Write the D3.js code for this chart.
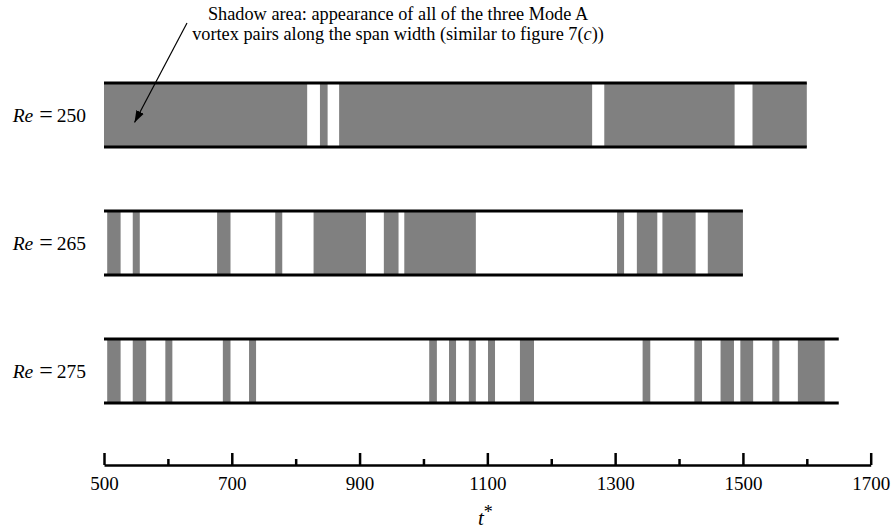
<!DOCTYPE html>
<html><head><meta charset="utf-8">
<script src="https://cdn.jsdelivr.net/npm/d3@7"></script>
<style>body{margin:0;background:#fff}svg{display:block}text{font-family:"Liberation Serif","Times New Roman",serif;fill:#000}</style>
</head><body>
<script>
const reynolds = ["250", "265", "275"];
const spanEnd = [1600, 1500, 1650];
const shaded250 = [[500,818],[838,850],[868,1264],[1283,1487],[1515,1600]];
const shaded265 = [[505,526],[545,556],[677,698],[768,779],[828,910],[938,961],[970,1082],[1303,1314],[1334,1366],[1374,1426],[1445,1500]];
const shaded275 = [[505,526],[545,566],[596,607],[686,698],[727,738],[1009,1021],[1040,1051],[1071,1082],[1101,1112],[1151,1173],[1343,1355],[1424,1436],[1465,1486],[1496,1516],[1546,1557],[1586,1628]];
const shadedAll = [shaded250, shaded265, shaded275];
const majorTicks = [500, 700, 900, 1100, 1300, 1500, 1700];
const minorTicks = [600, 800, 1000, 1200, 1400, 1600];

const W = 896, H = 530;
const svg = d3.select("body").append("svg").attr("width", W).attr("height", H);
const x = d3.scaleLinear().domain([500, 1700]).range([104, 870.7]);
const y = d3.scaleBand().domain(reynolds).range([83, 403]).paddingInner(0.5).paddingOuter(0);

reynolds.forEach((re, i) => {
  const g = svg.append("g");
  const y0 = y(re), bw = y.bandwidth();
  g.selectAll("rect").data(shadedAll[i]).join("rect")
    .attr("x", d => x(d[0])).attr("width", d => x(d[1]) - x(d[0]))
    .attr("y", y0).attr("height", bw).attr("fill", "#808080");
  [y0, y0 + bw].forEach(yy => {
    g.append("line").attr("x1", x(500)).attr("x2", x(spanEnd[i]))
      .attr("y1", yy).attr("y2", yy).attr("stroke", "#000").attr("stroke-width", 3);
  });
  const t = g.append("text").attr("x", 86).attr("y", y0 + bw / 2 + 6.5)
    .attr("text-anchor", "end").style("font-size", "19.5px");
  t.append("tspan").style("font-style", "italic").text("Re");
  t.append("tspan").attr("dx", 6).style("font-size", "24px").text("=");
  t.append("tspan").attr("dx", 4).text(re);
});

// axis
const axY = 465;
const gMaj = svg.append("g").attr("transform", `translate(0,${axY})`)
  .call(d3.axisBottom(x).tickValues(majorTicks).tickSizeInner(-12).tickSizeOuter(0).tickPadding(12).tickFormat(d3.format("d")));
gMaj.select(".domain").attr("stroke-width", 2.7).attr("stroke", "#000");
gMaj.selectAll(".tick line").attr("stroke-width", 2.5).attr("stroke", "#000");
gMaj.selectAll(".tick text").style("font-size", "19px").style("font-family", "Liberation Serif, serif").attr("fill", "#000");
const gMin = svg.append("g").attr("transform", `translate(0,${axY})`)
  .call(d3.axisBottom(x).tickValues(minorTicks).tickSizeInner(-6).tickSizeOuter(0).tickFormat(""));
gMin.select(".domain").remove();
gMin.selectAll(".tick line").attr("stroke-width", 2.5).attr("stroke", "#000");

const tt = svg.append("text").attr("x", 478).attr("y", 525).style("font-size", "21px");
tt.append("tspan").style("font-style", "italic").text("t");
tt.append("tspan").attr("dy", -7).style("font-size", "18px").text("*");

// annotation
svg.append("text").attr("x", 398).attr("y", 20).attr("text-anchor", "middle").style("font-size", "18.3px")
  .text("Shadow area: appearance of all of the three Mode A");
const l2 = svg.append("text").attr("x", 398).attr("y", 40).attr("text-anchor", "middle").style("font-size", "18.3px");
l2.append("tspan").text("vortex pairs along the span width (similar to figure 7(");
l2.append("tspan").style("font-style", "italic").text("c");
l2.append("tspan").text("))");

svg.append("defs").append("marker").attr("id", "ah").attr("viewBox", "0 0 10 10")
  .attr("refX", 10).attr("refY", 5).attr("markerWidth", 12).attr("markerHeight", 12)
  .attr("markerUnits", "userSpaceOnUse").attr("orient", "auto")
  .append("path").attr("d", "M0,1.5 L10,5 L0,8.5 Z").attr("fill", "#000");
svg.append("line").attr("x1", 187).attr("y1", 23).attr("x2", 134.5).attr("y2", 122.5)
  .attr("stroke", "#000").attr("stroke-width", 1.2).attr("marker-end", "url(#ah)");
</script>
</body></html>
